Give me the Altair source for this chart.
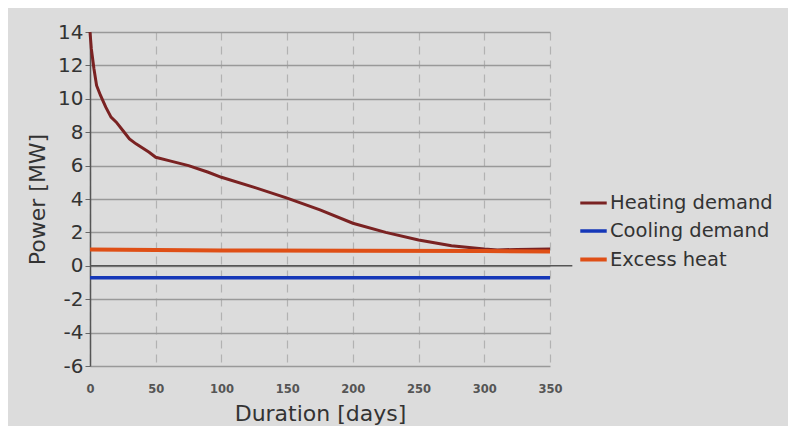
import altair as alt
import pandas as pd

# Heating demand (duration curve)
heat_days = [0, 1, 3, 5, 8, 12, 16, 20, 25, 30, 35, 40, 45, 50, 60, 75, 90, 100, 125, 150, 175, 200, 225, 250, 275, 300, 310, 325, 350]
heat_vals = [14.0, 13.0, 11.8, 10.8, 10.2, 9.5, 8.9, 8.6, 8.1, 7.6, 7.3, 7.05, 6.8, 6.5, 6.3, 6.0, 5.6, 5.3, 4.7, 4.05, 3.35, 2.55, 2.0, 1.55, 1.2, 1.0, 0.95, 0.98, 1.0]

# Cooling demand
cool_days = [0, 350]
cool_vals = [-0.72, -0.72]

# Excess heat
exc_days = [0, 100, 200, 300, 350]
exc_vals = [0.98, 0.92, 0.9, 0.88, 0.85]

series = ["Heating demand", "Cooling demand", "Excess heat"]
colors = ["#7a2222", "#1537b8", "#df4f16"]

x_ticks = [0, 50, 100, 150, 200, 250, 300, 350]
y_ticks = [-6, -4, -2, 0, 2, 4, 6, 8, 10, 12, 14]

rows = []
for d, v in zip(heat_days, heat_vals):
    rows.append({"day": d, "power": v, "series": series[0], "ord": 0})
for d, v in zip(cool_days, cool_vals):
    rows.append({"day": d, "power": v, "series": series[1], "ord": 1})
for d, v in zip(exc_days, exc_vals):
    rows.append({"day": d, "power": v, "series": series[2], "ord": 2})
df = pd.DataFrame(rows)

zero_df = pd.DataFrame({"day": [0], "day2": [367], "power": [0]})

x_scale = alt.Scale(domain=[0, 350], nice=False)
y_scale = alt.Scale(domain=[-6, 14], nice=False)

x_axis = alt.Axis(
    values=x_ticks,
    title="Duration [days]",
    grid=True,
    gridDash=[8, 6],
    gridColor="#b2b2b2",
    gridWidth=1.2,
    domain=False,
    ticks=False,
    tickSize=0,
    labelPadding=17,
    labelFlush=False,
    labelOverlap=False,
    labelFontSize=11.5,
    labelFontWeight="bold",
    labelColor="#555555",
    titleFontSize=22,
    titleFontWeight="normal",
    titleColor="#333333",
    titlePadding=9,
)
y_axis = alt.Axis(
    values=y_ticks,
    labelExpr="'' + datum.value",
    title="Power [MW]",
    grid=True,
    gridColor="#999999",
    gridWidth=1.3,
    domain=True,
    domainColor="#555555",
    domainWidth=1.5,
    ticks=True,
    tickSize=5,
    tickColor="#666666",
    labelPadding=2,
    labelFlush=False,
    labelOverlap=False,
    labelFontSize=20,
    labelColor="#333333",
    titleFontSize=22,
    titleFontWeight="normal",
    titleColor="#333333",
    titlePadding=8,
)

lines = alt.Chart(df).mark_line().encode(
    x=alt.X("day:Q", scale=x_scale, axis=x_axis),
    y=alt.Y("power:Q", scale=y_scale, axis=y_axis),
    color=alt.Color(
        "series:N",
        scale=alt.Scale(domain=series, range=colors),
        legend=alt.Legend(
            title=None,
            orient="none",
            legendX=488,
            legendY=156,
            symbolType="stroke",
            symbolStrokeWidth=4,
            symbolSize=700,
            labelFontSize=19.5,
            labelColor="#333333",
            labelOffset=1,
            labelLimit=400,
            rowPadding=3,
            symbolOffset=0,
        ),
    ),
    strokeWidth=alt.StrokeWidth(
        "series:N",
        scale=alt.Scale(domain=series, range=[3, 4, 5]),
        legend=None,
    ),
    order=alt.Order("ord:Q"),
)

zero = alt.Chart(zero_df).mark_rule(color="#555555", strokeWidth=1.5, clip=False).encode(
    x=alt.X("day:Q", scale=x_scale, axis=x_axis),
    x2="day2:Q",
    y=alt.Y("power:Q", scale=y_scale, axis=y_axis),
)

chart = alt.layer(lines, zero).properties(
    width=460,
    height=334,
    background="#dcdcdc",
    padding={"left": 82, "top": 24, "right": 238, "bottom": 60},
    autosize=alt.AutoSizeParams(type="none"),
).configure_view(
    stroke="#555555", strokeWidth=1.5
).configure(
    font="DejaVu Sans"
)

chart.save("out.html", embed_options={"renderer": "svg", "actions": False})
